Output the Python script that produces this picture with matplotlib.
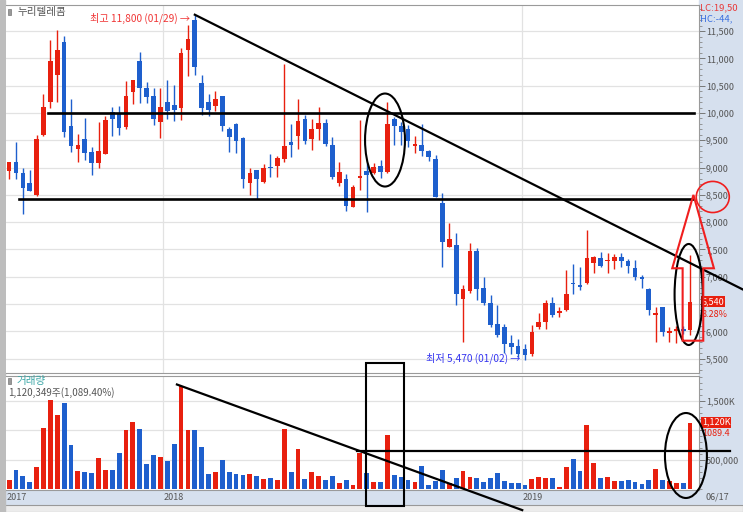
import numpy as np
import matplotlib.pyplot as plt
from matplotlib.patches import Ellipse, Rectangle, Polygon
from matplotlib.ticker import FuncFormatter, MultipleLocator, FixedLocator

plt.rcParams['font.family'] = ['Noto Sans CJK KR', 'DejaVu Sans']

# 주봉 데이터 (2017 하반기 ~ 2019/06/17)
opens = [8940, 9107, 8904, 8715, 8494, 9596, 10196, 10698, 11297, 9755,
         9339, 9523, 9290, 9082, 9241, 10012, 10000, 9743, 10392, 10949,
         10453, 10306, 9829, 10196, 10147, 10098, 11145, 11707, 10551, 10196,
         10135, 10306, 9706, 9792, 9535, 8727, 8947, 8739, 9015, 9033,
         9155, 9474, 9584, 9890, 9523, 9706, 9816, 9412, 8715, 8800,
         8286, 8807, 8941, 8898, 9033, 8923, 9890, 9767, 9706, 9388,
         9419, 9296, 9155, 8360, 7552, 7583, 6585, 6738, 7478, 6800,
         6512, 6144, 6083, 5790, 5728, 5679, 5594, 6083, 6175, 6512,
         6328, 6389, 6891, 6848, 6879, 7246, 7338, 7283, 7289, 7368,
         7289, 7154, 7001, 6775, 6297, 6438, 5979, 6004, 6041, 6030]
highs = [9110, 9474, 8984, 8960, 9596, 10349, 11346, 11512, 11408, 10257,
         9608, 9902, 9380, 9841, 9951, 10104, 10135, 10590, 10600, 11114,
         10575, 10453, 10453, 10612, 10514, 11187, 11603, 11800, 10698, 10349,
         10404, 10306, 9737, 9810, 9553, 8984, 8947, 9064, 9247, 9217,
         10900, 9800, 10257, 9963, 9890, 10104, 9890, 9553, 9094, 8880,
         8680, 9870, 9082, 9082, 9143, 10196, 9927, 9829, 9786, 9584,
         9798, 9327, 9235, 8531, 7993, 7797, 6850, 7625, 7521, 6989,
         6665, 6481, 6144, 5930, 5869, 5777, 6114, 6328, 6573, 6622,
         6450, 7124, 7234, 7185, 7858, 7380, 7460, 7430, 7417, 7430,
         7320, 7307, 7032, 6787, 6450, 6450, 6083, 6095, 6100, 7399]
lows = [8790, 8788, 8146, 8574, 8482, 9584, 10098, 10196, 9553, 9290,
        9107, 9137, 8868, 8990, 9241, 9584, 9596, 9706, 10171, 10177,
        10177, 9786, 9535, 9890, 9853, 9878, 10685, 10704, 9963, 9939,
        10043, 9676, 9290, 9266, 8635, 8494, 8421, 8715, 8819, 8819,
        9107, 9186, 9339, 9431, 9327, 9510, 9400, 8788, 8666, 8207,
        8270, 8592, 8195, 8886, 8807, 8898, 9419, 9419, 9376, 9266,
        9217, 9113, 8458, 7185, 7552, 6481, 5808, 6695, 6573, 6481,
        6083, 5900, 5606, 5594, 5540, 5470, 5545, 6053, 6053, 6267,
        6267, 6377, 6683, 6756, 6867, 7062, 7173, 7062, 7136, 7173,
        7062, 6940, 6787, 6297, 5808, 5912, 5808, 5790, 5950, 5930]
closes = [9100, 8904, 8623, 8574, 9523, 10110, 10949, 11151, 9657, 9400,
          9419, 9259, 9076, 9296, 9871, 9890, 9718, 10306, 10600, 10453,
          10300, 9890, 10104, 10043, 10055, 11102, 11359, 10838, 10092, 10055,
          10257, 9767, 9565, 9492, 8800, 8904, 8800, 8990, 8995, 9168,
          9400, 9419, 9847, 9492, 9706, 9816, 9431, 8831, 8911, 8298,
          8650, 8849, 8868, 9009, 8923, 9804, 9767, 9645, 9480, 9431,
          9296, 9186, 8458, 7644, 7687, 6677, 6775, 7478, 6781, 6512,
          6126, 5930, 5777, 5716, 5594, 5563, 5991, 6175, 6512, 6297,
          6371, 6683, 6860, 6812, 7338, 7356, 7197, 7307, 7368, 7289,
          7197, 7001, 6964, 6389, 6340, 5991, 6010, 6041, 6000, 6540]
# 거래량 (천주)
volumes = [154, 324, 220, 132, 385, 1038, 1511, 1258, 1473, 758,
           313, 302, 286, 527, 324, 324, 610, 1000, 1137, 1022,
           429, 582, 544, 489, 775, 1747, 1000, 1005, 725, 264,
           297, 500, 297, 264, 242, 264, 236, 181, 192, 154,
           1033, 297, 687, 181, 297, 236, 165, 220, 110, 165,
           82, 626, 275, 121, 132, 923, 253, 203, 159, 121,
           396, 71, 148, 324, 110, 198, 319, 209, 198, 121,
           187, 280, 148, 115, 104, 82, 170, 209, 198, 187,
           44, 385, 522, 319, 1088, 456, 198, 209, 143, 137,
           154, 132, 99, 165, 341, 159, 137, 110, 110, 1120]
year_labels = ['2017', '2018', '2019']
year_pos = [-0.3, 22.4, 74.6]

RED = '#e8200f'
BLUE = '#1e5fcd'
PANEL = '#d6e0ee'
W, H = 743, 512

fig = plt.figure(figsize=(W / 100, H / 100), dpi=100)


def box(x0, y0, x1, y1):
    return [x0 / W, 1 - y1 / H, (x1 - x0) / W, (y1 - y0) / H]


# 배경 패널들 (축 뒤에 그림)
fig.patches.append(Rectangle((699 / W, 0), 44 / W, 1, transform=fig.transFigure,
                             color=PANEL, zorder=-2))
fig.patches.append(Rectangle((6 / W, 1 - 505 / H), 693 / W, 14 / H, transform=fig.transFigure,
                             color=PANEL, zorder=-2))
fig.patches.append(Rectangle((0, 0), 1, 7 / H, transform=fig.transFigure,
                             fc='#ececec', ec='#999999', lw=0.8, zorder=-1))
fig.patches.append(Rectangle((0, 0), 5 / W, 1, transform=fig.transFigure,
                             color='#bdbdbd', zorder=-1))

o = np.array(opens)
h = np.array(highs)
l = np.array(lows)
c = np.array(closes)
v = np.array(volumes)
x = np.arange(len(o))
col = np.where(c >= o, RED, BLUE)

# ---- 가격 차트 ----
ax = fig.add_axes(box(6, 5, 699, 373))
ax.vlines(x, l, h, colors=col, lw=1, zorder=2)
ax.bar(x, np.maximum(np.abs(c - o), 18), bottom=np.minimum(o, c), width=0.68,
       color=col, zorder=3)
ax.set_xlim(-0.45, 100.3)
ax.set_ylim(5238, 11978)
ax.yaxis.tick_right()
ax.yaxis.set_major_locator(MultipleLocator(500))
ax.yaxis.set_minor_locator(MultipleLocator(100))
# 6,500 눈금 글자는 현재가 표시에 가려짐
ax.yaxis.set_major_formatter(FuncFormatter(lambda val, p: '' if int(val) == 6500 else f'{int(val):,}'))
ax.tick_params(axis='y', which='major', length=4, width=0.7, color='#777777',
               labelsize=6.5, labelcolor='#555555', pad=1)
ax.tick_params(axis='y', which='minor', length=2, width=0.6, color='#888888')
ax.set_xticks([])
ax.grid(axis='y', color='#e2e2e2', lw=0.9)
for xp in year_pos[1:]:
    ax.axvline(xp, color='#e2e2e2', lw=0.9, zorder=0)
ax.spines['left'].set_visible(False)
for s in ['top', 'bottom', 'right']:
    ax.spines[s].set_color('#9a9a9a')
    ax.spines[s].set_linewidth(0.8)

# 추세선, 지지/저항선, 표시
ax.plot([5.7, 99.6], [10000, 10000], color='black', lw=1.9, clip_on=False, zorder=5)
ax.plot([1.5, 99.4], [8425, 8425], color='black', lw=1.9, clip_on=False, zorder=5)
ax.plot([27, 106.7], [11800, 6766], color='black', lw=1.6, clip_on=False, zorder=5)
ax.add_patch(Ellipse((54.65, 9505), 5.8, 1703, fill=False, ec='black', lw=1.5,
                     clip_on=False, zorder=6))
ax.add_patch(Ellipse((98.8, 6676), 4.1, 1850, fill=False, ec='black', lw=1.5,
                     clip_on=False, zorder=6))
ax.add_patch(Polygon([(99.49, 8500), (102.47, 7156), (100.92, 7156), (100.92, 5830),
                      (97.92, 5830), (97.92, 7156), (96.41, 7156)], closed=True,
                     fill=False, ec='#f01e1e', lw=1.5, clip_on=False, zorder=6))
ax.add_patch(Ellipse((102.3, 8462), 4.8, 570, fill=False, ec='#f01e1e', lw=1.2,
                     clip_on=False, zorder=6))

ax.text(26.3, 11740, '최고 11,800 (01/29) →', ha='right', va='center',
        color='#f03535', size=7.3)
ax.text(74.3, 5513, '최저 5,470 (01/02) →', ha='right', va='center',
        color='#3535f0', size=7.3)

yt = ax.get_yaxis_transform()
ax.text(1.004, 6550, '6,540', transform=yt, ha='left', va='center', color='white',
        size=6.5, bbox=dict(fc=RED, ec='none', pad=0.6), clip_on=False)
ax.text(1.004, 6310, '8.28%', transform=yt, ha='left', va='center', color=RED,
        size=6.5, clip_on=False)

fig.patches.append(Rectangle((8 / W, 1 - 15 / H), 3 / W, 6 / H, transform=fig.transFigure,
                             fc='#999999', ec='#777777', lw=0.5, zorder=5))
fig.text(17 / W, 1 - 12 / H, '누리텔레콤', ha='left', va='center', color='#555555', size=7.6)
fig.text(700 / W, 1 - 8 / H, 'LC:19,50', ha='left', va='center', color='#e83a3a', size=6.8)
fig.text(700 / W, 1 - 19 / H, 'HC:-44,', ha='left', va='center', color='#3a6fe0', size=6.8)

# ---- 거래량 차트 ----
axv = fig.add_axes(box(6, 376, 699, 490))
axv.bar(x, v, width=0.7, color=col, zorder=3)
axv.set_xlim(-0.45, 100.3)
axv.set_ylim(-9, 1924)
axv.yaxis.tick_right()
axv.yaxis.set_major_locator(FixedLocator([500, 1000, 1500]))
axv.yaxis.set_minor_locator(MultipleLocator(100))
axv.set_yticklabels(['500,000', '', '1,500K'])
axv.tick_params(axis='y', which='major', length=4, width=0.7, color='#777777',
                labelsize=6.5, labelcolor='#555555', pad=1)
axv.tick_params(axis='y', which='minor', length=2, width=0.6, color='#888888')
axv.set_xticks(year_pos)
axv.set_xticklabels(year_labels, ha='left')
axv.tick_params(axis='x', length=0, labelsize=6.5, labelcolor='#555555', pad=2)
axv.grid(axis='y', color='#e2e2e2', lw=0.9)
for xp in year_pos[1:]:
    axv.axvline(xp, color='#e2e2e2', lw=0.9, zorder=0)
axv.spines['left'].set_visible(False)
for s in ['top', 'bottom', 'right']:
    axv.spines[s].set_color('#9a9a9a')
    axv.spines[s].set_linewidth(0.8)

axv.plot([24.4, 74.6], [1780, -350], color='black', lw=1.6, clip_on=False, zorder=5)
axv.plot([50.6, 104.8], [650, 650], color='black', lw=1.6, clip_on=False, zorder=5)
axv.add_patch(Rectangle((51.9, -280), 5.5, 2424, fill=False, ec='black', lw=1.5,
                        clip_on=False, zorder=6))
axv.add_patch(Ellipse((98.4, 576), 6.1, 1441, fill=False, ec='black', lw=1.5,
                      clip_on=False, zorder=6))

yv = axv.get_yaxis_transform()
axv.text(1.004, 1140, '1,120K', transform=yv, ha='left', va='center', color='white',
         size=6.5, bbox=dict(fc=RED, ec='none', pad=0.6), clip_on=False)
axv.text(1.004, 950, '1089.4', transform=yv, ha='left', va='center', color=RED,
         size=6.5, clip_on=False)

fig.patches.append(Rectangle((8 / W, 1 - 384 / H), 3 / W, 6 / H, transform=fig.transFigure,
                             fc='#999999', ec='#777777', lw=0.5, zorder=5))
fig.text(17 / W, 1 - 381 / H, '거래량', ha='left', va='center', color='#3aa6a6', size=7.6)
fig.text(8 / W, 1 - 393 / H, '1,120,349주(1,089.40%)', ha='left', va='center',
         color='#555555', size=7)
fig.text(706 / W, 1 - 497 / H, '06/17', ha='left', va='center', color='#555555', size=6.5)

fig.savefig('out.png', dpi=100)
